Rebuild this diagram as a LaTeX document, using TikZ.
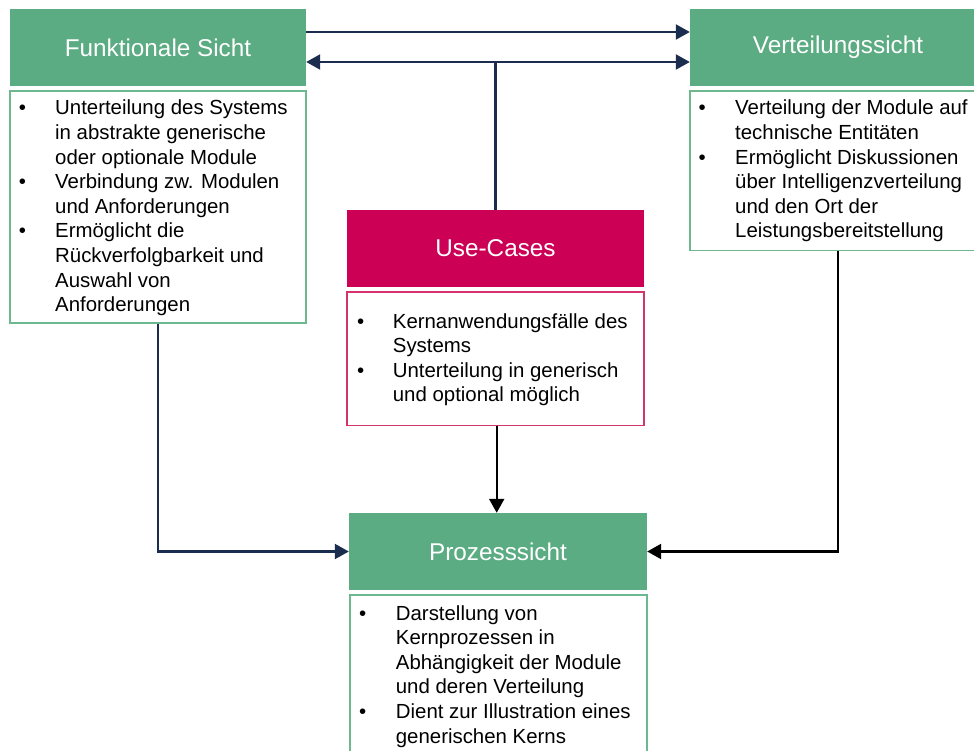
\documentclass[tikz,border=0pt]{standalone}
\usepackage{fontspec}
\setmainfont{Liberation Sans}
\usetikzlibrary{arrows.meta}
\definecolor{hgreen}{RGB}{91,171,131}
\definecolor{bgreen}{RGB}{110,184,143}
\definecolor{hmag}{RGB}{204,0,85}
\definecolor{bmag}{RGB}{214,51,110}
\definecolor{navy}{RGB}{27,45,79}
\newcommand\bline[4]{\node[btext] (#1) at (#2,#3) {#4};}
\newcommand\bdot[3]{\node[bdot] (#1) at (#2,#3) {•};}
\tikzset{
  header/.style={rectangle, inner sep=0pt, text=white, font=\fontsize{24.3}{29}\selectfont, minimum height=77pt},
  ghead/.style={header, fill=hgreen},
  mhead/.style={header, fill=hmag},
  body/.style={rectangle, inner sep=0pt, fill=white, line width=1.4pt},
  gbody/.style={body, draw=bgreen},
  mbody/.style={body, draw=bmag},
  btext/.style={anchor=base west, inner sep=0pt, font=\fontsize{20.4}{24.6}\selectfont, text=black},
  bdot/.style={anchor=base, inner sep=0pt, font=\fontsize{20.4}{24.6}\selectfont, text=black},
  tip/.tip={Triangle[length=14pt,width=15pt]},
  navyarrow/.style={draw=navy, line width=2.2pt, -tip},
  navyboth/.style={draw=navy, line width=2.2pt, tip-tip},
  navyline/.style={draw=navy, line width=2.2pt},
  blackarrow/.style={draw=black, line width=2.2pt, -tip},
}
\begin{document}
\begin{tikzpicture}[x=1pt,y=-1pt]
\useasboundingbox (0,0) rectangle (974,751);
\clip (0,0) rectangle (974,751);
\fill[white] (0,0) rectangle (974,751);

% headers
\node[ghead, minimum width=296pt] (fsh) at (158,47.5) {Funktionale Sicht};
\node[ghead, minimum width=296pt] (vsh) at (838,47.5) {Verteilungssicht};
\node[mhead, minimum width=297pt] (uch) at (495.5,248.5) {Use-Cases};
\node[ghead, minimum width=298pt] (psh) at (498,551.5) {Prozesssicht};

% bodies
\node[gbody, minimum width=296pt, minimum height=232pt] (fsb) at (158,207) {};
\node[gbody, minimum width=296pt, minimum height=159.5pt] (vsb) at (838,170.75) {};
\node[mbody, minimum width=297pt, minimum height=133.7pt] (ucb) at (495.5,358.85) {};
\node[gbody, minimum width=297pt, minimum height=205pt] (psb) at (498.5,697.5) {};

% Funktionale Sicht text
\bdot{fd1}{22.5}{115}
\bline{f1}{55}{115}{Unterteilung des Systems}
\bline{f2}{55}{139.6}{in abstrakte generische}
\bline{f3}{55}{164.2}{oder optionale Module}
\bdot{fd2}{22.5}{188.8}
\bline{f4}{55}{188.8}{Verbindung zw. Modulen}
\bline{f5}{55}{213.4}{und Anforderungen}
\bdot{fd3}{22.5}{238}
\bline{f6}{55}{238}{Ermöglicht die}
\bline{f7}{55}{262.6}{Rückverfolgbarkeit und}
\bline{f8}{55}{287.2}{Auswahl von}
\bline{f9}{55}{311.8}{Anforderungen}

% Verteilungssicht text
\bdot{vd1}{702.3}{115}
\bline{v1}{735}{115}{Verteilung der Module auf}
\bline{v2}{735}{139.6}{technische Entitäten}
\bdot{vd2}{702.3}{164.2}
\bline{v3}{735}{164.2}{Ermöglicht Diskussionen}
\bline{v4}{735}{188.8}{über Intelligenzverteilung}
\bline{v5}{735}{213.4}{und den Ort der}
\bline{v6}{735}{238}{Leistungsbereitstellung}

% Use-Cases text
\bdot{ud1}{360.7}{328}
\bline{u1}{392.7}{328}{Kernanwendungsfälle des}
\bline{u2}{392.7}{352.6}{Systems}
\bdot{ud2}{360.7}{377.2}
\bline{u3}{392.7}{377.2}{Unterteilung in generisch}
\bline{u4}{392.7}{401.8}{und optional möglich}

% Prozesssicht text
\bdot{pd1}{362.7}{620}
\bline{p1}{395.7}{620}{Darstellung von}
\bline{p2}{395.7}{644.6}{Kernprozessen in}
\bline{p3}{395.7}{669.2}{Abhängigkeit der Module}
\bline{p4}{395.7}{693.8}{und deren Verteilung}
\bdot{pd2}{362.7}{718.4}
\bline{p5}{395.7}{718.4}{Dient zur Illustration eines}
\bline{p6}{395.7}{743}{generischen Kerns}

% connectors
\draw[navyarrow] (fsh.east |- 0,32) -- (vsh.west |- 0,32);
\draw[navyboth] (fsh.east |- 0,62) -- (vsh.west |- 0,62);
\draw[navyline] (uch.north) -- (uch.north |- 0,62);
\draw[navyarrow] (fsb.south) |- (psh.west);
\draw[blackarrow] (vsb.south) |- (psh.east);
\draw[blackarrow] (ucb.south -| 496.7,0) -- (psh.north -| 496.7,0);
\end{tikzpicture}
\end{document}
